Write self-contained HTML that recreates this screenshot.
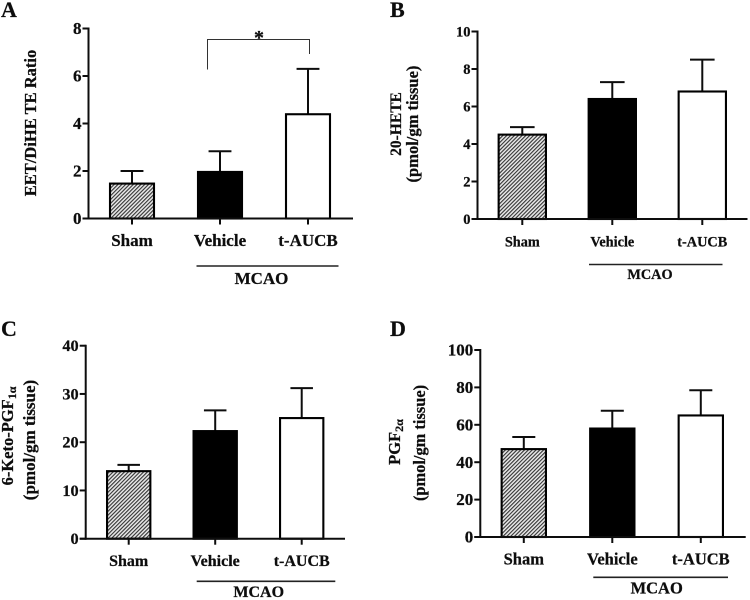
<!DOCTYPE html>
<html lang="en">
<head>
<meta charset="utf-8">
<title>Eicosanoid levels after MCAO</title>
<style>
  html, body { margin: 0; padding: 0; background: #fff; }
  body { width: 750px; height: 600px; overflow: hidden; }
  svg { display: block; }
  text { font-family: "Liberation Serif", serif; font-weight: bold; fill: #111; stroke: #111; stroke-width: 0.25px; }
</style>
</head>
<body>
<svg id="figure" xmlns="http://www.w3.org/2000/svg" width="750" height="600" viewBox="0 0 750 600">
  <defs>
    <pattern id="hatch" patternUnits="userSpaceOnUse" width="2.7" height="2.7" patternTransform="rotate(-45)">
      <rect width="2.7" height="2.7" fill="#e8e8e8"></rect>
      <rect width="2.7" height="1.1" fill="#333"></rect>
    </pattern>
    <filter id="soft" x="0" y="0" width="100%" height="100%"><feGaussianBlur stdDeviation="0.3"></feGaussianBlur></filter>
  </defs>
  <rect width="750" height="600" fill="#fff"></rect>
  <g id="root" filter="url(#soft)">
    <text x="1" y="17" font-size="22">A</text>
    <text x="390" y="17" font-size="22">B</text>
    <text x="1" y="336" font-size="22">C</text>
    <text x="390" y="336" font-size="22">D</text>

    <text transform="translate(36 123) rotate(-90)" text-anchor="middle" font-size="16.5">EET/DiHE TE Ratio</text>

    <text transform="translate(401 124) rotate(-90)" text-anchor="middle" font-size="15.5">20-HETE</text>
    <text transform="translate(418 124) rotate(-90)" text-anchor="middle" font-size="16.5">(pmol/gm tissue)</text>

    <text transform="translate(13 436) rotate(-90)" text-anchor="middle" font-size="16.5">6-Keto-PGF<tspan font-size="12" dy="3">1α</tspan></text>
    <text transform="translate(35 440) rotate(-90)" text-anchor="middle" font-size="17">(pmol/gm tissue)</text>

    <text transform="translate(400 442) rotate(-90)" text-anchor="middle" font-size="16.5">PGF<tspan font-size="12" dy="3">2α</tspan></text>
    <text transform="translate(425 443) rotate(-90)" text-anchor="middle" font-size="16.4">(pmol/gm tissue)</text>

    <path d="M207.5 69.5V39.5H309.5V54" fill="none" stroke="#333" stroke-width="1"></path>
    <text x="259" y="44" text-anchor="middle" font-size="20">*</text>
  </g>
</svg>
<script>
// ----- chart data -----
var categories = ["Sham", "Vehicle", "t-AUCB"];
var groupLabel = "MCAO";

var valuesA = [1.47, 1.96, 4.39];
var errorsA = [0.53, 0.87, 1.91];
var ticksA = [0, 2, 4, 6, 8];

var valuesB = [4.5, 6.4, 6.8];
var errorsB = [0.4, 0.9, 1.7];
var ticksB = [0, 2, 4, 6, 8, 10];

var valuesC = [14, 22.3, 25];
var errorsC = [1.3, 4.3, 6.2];
var ticksC = [0, 10, 20, 30, 40];

var valuesD = [47, 58, 65];
var errorsD = [6.5, 9.5, 13.5];
var ticksD = [0, 20, 40, 60, 80, 100];

// ----- panel layout -----
var panels = [
  { id: "a", values: valuesA, errors: errorsA, ticks: ticksA,
    axisX: 88.5, axisEnd: 353, top: 28.5, bottom: 218.5, first: 132, step: 88, barW: 44,
    labelY: 246, labelFont: 17, tickFont: 17,
    groupX0: 196.5, groupX1: 338.5, groupY: 266, groupTextX: 261.5, groupTextY: 284, groupFont: 17 },
  { id: "b", values: valuesB, errors: errorsB, ticks: ticksB,
    axisX: 477.5, axisEnd: 747.5, top: 31.5, bottom: 219, first: 522.3, step: 90, barW: 47.3,
    labelY: 246.5, labelFont: 14.3, tickFont: 14.5,
    groupX0: 589, groupX1: 722.5, groupY: 264.5, groupTextX: 650, groupTextY: 279, groupFont: 14.3 },
  { id: "c", values: valuesC, errors: errorsC, ticks: ticksC,
    axisX: 85.7, axisEnd: 345, top: 345.7, bottom: 538.7, first: 128.7, step: 86.5, barW: 43.3,
    labelY: 566, labelFont: 16, tickFont: 16.3,
    groupX0: 196.7, groupX1: 335.3, groupY: 581.3, groupTextX: 258.7, groupTextY: 597, groupFont: 16 },
  { id: "d", values: valuesD, errors: errorsD, ticks: ticksD,
    axisX: 480.3, axisEnd: 745.7, top: 350, bottom: 537, first: 523.8, step: 88.5, barW: 44.3,
    labelY: 564.5, labelFont: 16.5, tickFont: 17,
    groupX0: 593.3, groupX1: 728, groupY: 577.3, groupTextX: 656.7, groupTextY: 593.5, groupFont: 16.5 }
];

var SVG_NS = "http://www.w3.org/2000/svg";
var root = document.getElementById("root");

function make(tag, attrs, parent) {
  var node = document.createElementNS(SVG_NS, tag);
  for (var key in attrs) { node.setAttribute(key, attrs[key]); }
  parent.appendChild(node);
  return node;
}

function maxOf(list) { return Math.max.apply(null, list); }

function drawPanel(p) {
  var group = make("g", {}, root);
  
  

  var domainMax = maxOf(p.ticks);
  function yScale(v) { return p.bottom - (v / domainMax) * (p.bottom - p.top); }
  function xScale(i) { return p.first + i * p.step; }

  // bars and error bars
  p.values.forEach(function (value, i) {
    var cx = xScale(i), yTop = yScale(value), yErr = yScale(value + p.errors[i]);
    var capHalf = p.barW * 0.26;

    var errLine = make("line", { x1: cx, x2: cx, y1: yErr, y2: yTop, stroke: "#111", "stroke-width": 2 }, group);
    
    

    var errCap = make("line", { x1: cx - capHalf, x2: cx + capHalf, y1: yErr, y2: yErr, stroke: "#111", "stroke-width": 2 }, group);
    
    

    var fill = i === 0 ? "url(#hatch)" : (i === 1 ? "#000" : "#fff");
    var bar = make("rect", { x: cx - p.barW / 2, y: yTop, width: p.barW, height: p.bottom - yTop, fill: fill, stroke: "#000", "stroke-width": 2.1 }, group);
    
    

    var xTick = make("line", { x1: cx, x2: cx, y1: p.bottom, y2: p.bottom + 6, stroke: "#111", "stroke-width": 2 }, group);
    
    

    var xLabel = make("text", { x: cx, y: p.labelY, "text-anchor": "middle", "font-size": p.labelFont }, group);
    
    
    xLabel.textContent = categories[i];
  });

  // y axis with ticks
  var yAxis = make("line", { x1: p.axisX, x2: p.axisX, y1: p.top - 1, y2: p.bottom + 1, stroke: "#111", "stroke-width": 2 }, group);
  
  

  p.ticks.forEach(function (tick) {
    var y = yScale(tick);
    var yTick = make("line", { x1: p.axisX - 6, x2: p.axisX, y1: y, y2: y, stroke: "#111", "stroke-width": 2 }, group);
    
    

    var yLabel = make("text", { x: p.axisX - 7, y: y + p.tickFont * 0.33, "text-anchor": "end", "font-size": p.tickFont }, group);
    
    
    yLabel.textContent = tick;
  });

  // x axis
  var xAxis = make("line", { x1: p.axisX - 6, x2: p.axisEnd, y1: p.bottom, y2: p.bottom, stroke: "#111", "stroke-width": 2 }, group);
  
  

  // MCAO grouping
  var groupRule = make("line", { x1: p.groupX0, x2: p.groupX1, y1: p.groupY, y2: p.groupY, stroke: "#222", "stroke-width": 1.6 }, group);
  
  

  var groupText = make("text", { x: p.groupTextX, y: p.groupTextY, "text-anchor": "middle", "font-size": p.groupFont }, group);
  
  
  groupText.textContent = groupLabel;
}

panels.forEach(drawPanel);
</script>
</body>
</html>
